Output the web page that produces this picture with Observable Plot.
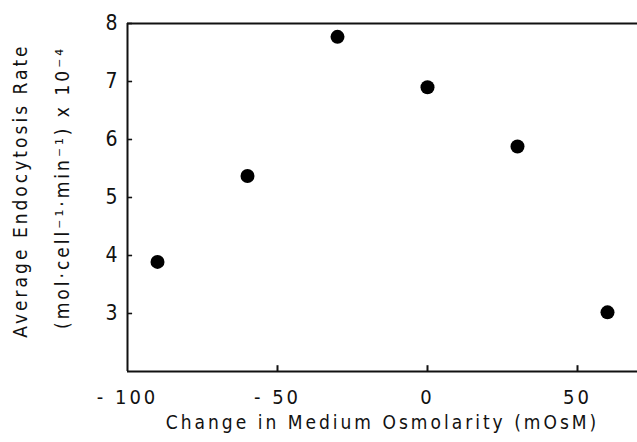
<!DOCTYPE html>
<html>
<head>
<meta charset="utf-8">
<script src="https://cdn.jsdelivr.net/npm/d3@7"></script>
<script src="https://cdn.jsdelivr.net/npm/@observablehq/plot@0.6"></script>
<style>
  html, body { margin: 0; padding: 0; background: #fff; }
  svg { overflow: visible; font-stretch: condensed; }
</style>
</head>
<body>
<div id="chart"></div>
<script>
const osmolarity = [-90, -60, -30, 0, 30, 60];
const rate = [3.89, 5.37, 7.77, 6.90, 5.88, 3.02];
const xTicks = [-100, -50, 0, 50];
const yTicks = [3, 4, 5, 6, 7, 8];
const xLabel = "Change in Medium Osmolarity (mOsM)";
const yLabel1 = "Average Endocytosis Rate";
const yLabel2 = "(mol\u00b7cell\u207b\u00b9\u00b7min\u207b\u00b9) x 10\u207b\u2074";

const data = osmolarity.map((x, i) => ({x, y: rate[i]}));
const font = "'DejaVu Sans Condensed', 'Liberation Sans Narrow', 'DejaVu Sans', sans-serif";

const chart = Plot.plot({
  width: 637,
  height: 442,
  marginLeft: 127,
  marginRight: 0,
  marginTop: 23,
  marginBottom: 71,
  style: {fontFamily: font, fontSize: "20px", letterSpacing: "3px", color: "#111", background: "#fff"},
  x: {domain: [-100, 70]},
  y: {domain: [2, 8]},
  marks: [
    Plot.axisX(xTicks, {tickSize: 0, tickPadding: 18, label: null, fontSize: 20,
      tickFormat: d => d < 0 ? "- " + Math.abs(d) : String(d)}),
    Plot.axisY(yTicks, {tickSize: 0, tickPadding: 7, label: null, fontSize: 21, tickFormat: d => String(d)}),
    Plot.ruleX(xTicks.filter(d => d > -100), {x: d => d, y1: 2, y2: 2.1, stroke: "#111", strokeWidth: 2}),
    Plot.ruleY(yTicks, {y: d => d, x1: -100, x2: -98.3, stroke: "#111", strokeWidth: 1.6}),
    Plot.ruleY([2, 8], {stroke: "#111", strokeWidth: 2}),
    Plot.ruleX([-100], {stroke: "#111", strokeWidth: 2}),
    Plot.dot(data, {x: "x", y: "y", r: 7, fill: "#000", stroke: "none"}),
    Plot.text([xLabel], {text: d => d, frameAnchor: "bottom", dy: 57, fontSize: 19, fill: "#111", style: {letterSpacing: "3.4px"}}),
    Plot.text([yLabel1], {text: d => d, frameAnchor: "left", textAnchor: "middle", rotate: -90, dx: -107, dy: -7, fontSize: 19, fill: "#111"}),
    Plot.text([yLabel2], {text: d => d, frameAnchor: "left", textAnchor: "middle", rotate: -90, dx: -65, dy: -10, fontSize: 19, fill: "#111"})
  ]
});
document.getElementById("chart").appendChild(chart);
</script>
</body>
</html>
